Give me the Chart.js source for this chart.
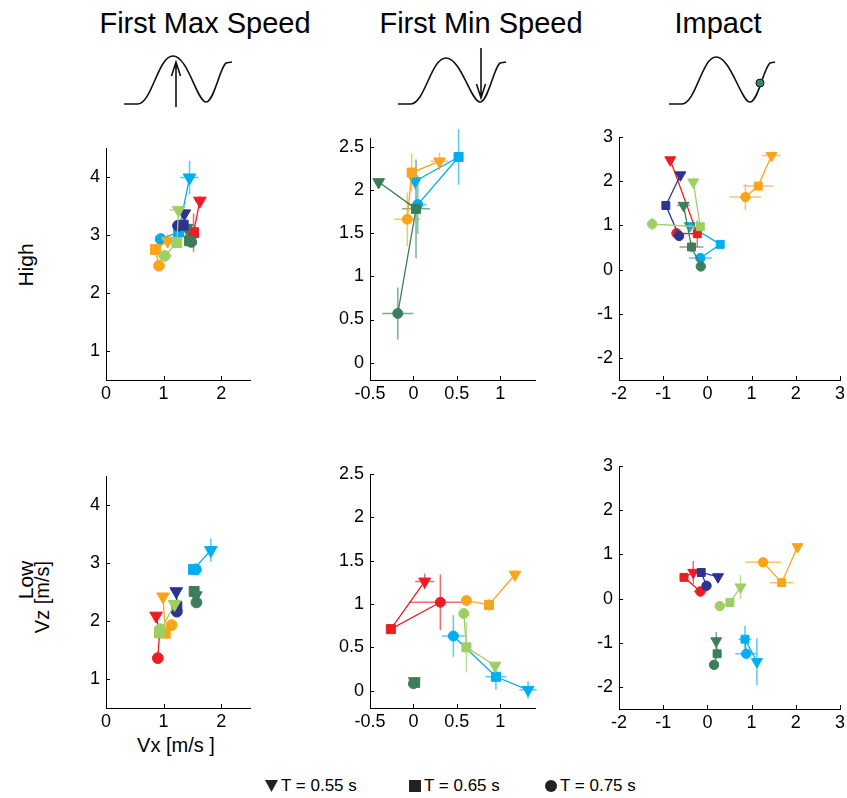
<!DOCTYPE html>
<html>
<head>
<meta charset="utf-8">
<script src="https://cdn.jsdelivr.net/npm/chart.js@4/dist/chart.umd.min.js"></script>
<style>
  body { margin: 0; width: 847px; height: 798px; overflow: hidden; background: #fff; position: relative;
         font-family: "Liberation Sans", Arial, sans-serif; color: #000; }
  .panel { position: absolute; }
  .txt { position: absolute; white-space: nowrap; line-height: 1; }
  .ctr { transform: translateX(-50%); }
  #overlay { position: absolute; left: 0; top: 0; }
  .leg { position: absolute; top: 777px; font-size: 17px; line-height: 1; white-space: nowrap; }
  .leg svg { vertical-align: -1px; margin-right: 3px; }
</style>
</head>
<body>

<div class="txt ctr" style="left:205px;top:9px;font-size:29px">First Max Speed</div>
<div class="txt ctr" style="left:481px;top:9px;font-size:29px">First Min Speed</div>
<div class="txt ctr" style="left:718px;top:9px;font-size:29px">Impact</div>

<svg id="overlay" width="847" height="798">
  <g fill="none" stroke="#111" stroke-width="1.6">
    <path d="M124,104 L138,104 C152,103 158,56 173,56 C188,56 197,102 206,102 C214,102 220,67 226,63 L232,62"/>
    <path d="M176,107 L176,63 M171.5,76 L176,62 L180.5,76"/>
    <path d="M398,104 L411,104 C425,103 431,58 446,58 C461,58 471,102 480,102 C488,102 494,67 500,63 L506,62"/>
    <path d="M481,48 L481,97 M476.5,84 L481,98 L485.5,84"/>
    <path d="M669,104 L682,104 C696,103 702,57 716,57 C731,57 741,102 750,102 C758,102 764,67 770,63 L775,62"/>
  </g>
  <circle cx="760" cy="83" r="4" fill="#3b8a5e" stroke="#111" stroke-width="1"/>
  <g font-family="Liberation Sans, Arial, sans-serif" fill="#000" text-anchor="middle">
    <text x="33" y="265" font-size="21" transform="rotate(-90 33 265)">High</text>
    <text x="33" y="580" font-size="21" transform="rotate(-90 33 580)">Low</text>
    <text x="49" y="597" font-size="20" transform="rotate(-90 49 597)">Vz [m/s]</text>
  </g>
</svg>

<div class="txt ctr" style="left:176px;top:735px;font-size:20px">Vx [m/s ]</div>

<div class="leg" style="left:265px"><svg width="13" height="12"><polygon points="0,0 13,0 6.5,12" fill="#222"/></svg>T = 0.55 s</div>
<div class="leg" style="left:409px"><svg width="12" height="12"><rect width="12" height="12" fill="#222"/></svg>T = 0.65 s</div>
<div class="leg" style="left:545px"><svg width="12" height="12"><circle cx="6" cy="6" r="6" fill="#222"/></svg>T = 0.75 s</div>

<script>
// series colours: red, orange, light green, dark green, cyan, navy
const colours = ['#ED1C24', '#F8A51B', '#9FCF63', '#3C7E5B', '#00AEEF', '#2B3590'];
const errColours = ['rgba(237,28,36,0.65)', 'rgba(248,165,27,0.65)', 'rgba(159,207,99,0.7)',
                    'rgba(60,126,91,0.65)', 'rgba(0,174,239,0.65)', 'rgba(43,53,144,0.65)'];
const periods = ['T = 0.55 s', 'T = 0.65 s', 'T = 0.75 s'];   // ▼, ■, ● within every series

// ticks
const maxSpeedTicksX = [0, 1, 2];
const maxSpeedTicksY = [1, 2, 3, 4];
const minSpeedTicksX = [-0.5, 0, 0.5, 1];
const minSpeedTicksY = [0, 0.5, 1, 1.5, 2, 2.5];
const impactTicksX = [-2, -1, 0, 1, 2, 3];
const impactTicksY = [-2, -1, 0, 1, 2, 3];

// High, First Max Speed  (rows: red, orange, light green, dark green, cyan, navy; cols: ▼ ■ ●)
const highMaxVx = [[1.63, 1.52, 1.50], [1.07, 0.86, 0.92], [1.26, 1.23, 1.02], [1.40, 1.45, 1.48], [1.45, 1.26, 0.95], [1.36, 1.34, 1.25]];
const highMaxVz = [[3.59, 3.04, 3.02], [2.90, 2.75, 2.47], [3.43, 2.87, 2.64], [3.12, 2.90, 2.88], [3.99, 3.05, 2.93], [3.37, 3.17, 3.16]];
const highMaxEx = [[0.05, 0.05, 0.04], [0.05, 0.05, 0.04], [0.16, 0.06, 0.12], [0.05, 0.06, 0.04], [0.16, 0.05, 0.04], [0.05, 0.05, 0.04]];
const highMaxEz = [[0.08, 0.33, 0.10], [0.12, 0.05, 0.06], [0.06, 0.06, 0.05], [0.06, 0.06, 0.04], [0.29, 0.10, 0.10], [0.08, 0.05, 0.05]];

// High, First Min Speed
const highMinVx = [null, [0.30, -0.02, -0.07], null, [-0.40, 0.03, -0.18], [0.02, 0.52, 0.05], null];
const highMinVz = [null, [2.33, 2.20, 1.66], null, [2.09, 1.78, 0.57], [2.10, 2.38, 1.83], null];
const highMinEx = [null, [0.10, 0.03, 0.15], null, [0.03, 0.16, 0.18], [0.05, 0.04, 0.10], null];
const highMinEz = [null, [0.10, 0.22, 0.31], null, [0.03, 0.57, 0.30], [0.10, 0.32, 0.34], null];

// High, Impact
const highImpVx = [[-0.84, -0.23, -0.70], [1.45, 1.15, 0.86], [-0.32, -0.16, -1.25], [-0.54, -0.36, -0.15], [-0.40, 0.29, -0.16], [-0.61, -0.94, -0.64]];
const highImpVz = [[2.48, 0.81, 0.82], [2.58, 1.89, 1.64], [1.98, 0.97, 1.03], [1.45, 0.51, 0.07], [0.99, 0.57, 0.26], [2.14, 1.45, 0.76]];
const highImpEx = [[0.05, 0.10, 0.05], [0.21, 0.34, 0.36], [0.05, 0.05, 0.05], [0.15, 0.27, 0.05], [0.12, 0.05, 0.26], [0.05, 0.05, 0.05]];
const highImpEz = [[0.05, 0.30, 0.05], [0.05, 0.10, 0.30], [0.10, 0.05, 0.15], [0.05, 0.12, 0.05], [0.05, 0.05, 0.05], [0.05, 0.05, 0.05]];

// Low, First Max Speed
const lowMaxVx = [[0.87, 0.93, 0.90], [0.99, 1.03, 1.14], [1.19, 0.93, 0.94], [1.56, 1.53, 1.57], [1.82, 1.52, 1.56], [1.22, 1.23, 1.23]];
const lowMaxVz = [[2.09, 1.80, 1.36], [2.42, 1.79, 1.93], [2.29, 1.80, 1.86], [2.44, 2.51, 2.32], [3.22, 2.89, 2.89], [2.51, 2.25, 2.16]];
const lowMaxEx = [[0.05, 0.03, 0.03], [0.04, 0.03, 0.04], [0.05, 0.03, 0.03], [0.03, 0.03, 0.03], [0.06, 0.05, 0.03], [0.03, 0.03, 0.03]];
const lowMaxEz = [[0.06, 0.05, 0.10], [0.05, 0.05, 0.08], [0.05, 0.10, 0.05], [0.05, 0.05, 0.05], [0.20, 0.03, 0.03], [0.06, 0.05, 0.05]];

// Low, First Min Speed
const lowMinVx = [[0.13, -0.26, 0.31], [1.17, 0.87, 0.61], [0.94, 0.61, 0.58], [0.01, 0.02, 0.00], [1.32, 0.95, 0.46], null];
const lowMinVz = [[1.26, 0.71, 1.02], [1.34, 0.99, 1.04], [0.29, 0.50, 0.89], [0.11, 0.09, 0.08], [0.01, 0.16, 0.63], null];
const lowMinEx = [[0.11, 0.03, 0.36], [0.03, 0.03, 0.05], [0.05, 0.05, 0.03], [0.03, 0.05, 0.03], [0.10, 0.12, 0.13], null];
const lowMinEz = [[0.09, 0.03, 0.32], [0.05, 0.07, 0.03], [0.03, 0.29, 0.03], [0.02, 0.03, 0.03], [0.10, 0.15, 0.24], null];

// Low, Impact
const lowImpVx = [[-0.32, -0.53, -0.16], [2.04, 1.68, 1.26], [0.75, 0.51, 0.28], [0.20, 0.22, 0.15], [1.12, 0.85, 0.88], [0.24, -0.14, -0.02]];
const lowImpVz = [[0.59, 0.48, 0.16], [1.17, 0.36, 0.82], [0.26, -0.09, -0.17], [-0.96, -1.25, -1.50], [-1.43, -0.92, -1.25], [0.49, 0.59, 0.29]];
const lowImpEx = [[0.05, 0.10, 0.15], [0.05, 0.26, 0.40], [0.05, 0.03, 0.03], [0.03, 0.10, 0.10], [0.03, 0.15, 0.25], [0.05, 0.05, 0.03]];
const lowImpEz = [[0.26, 0.05, 0.12], [0.05, 0.05, 0.05], [0.27, 0.03, 0.03], [0.20, 0.05, 0.05], [0.53, 0.30, 0.05], [0.08, 0.10, 0.03]];

// Chart.js paints the first dataset last, so the list runs from top layer to bottom
const drawOrder = [2, 5, 3, 1, 0, 4];
const FONT = '"Liberation Sans", Arial, sans-serif';
const AXIS_W = 50, AXIS_H = 30, PAD_T = 18, PAD_R = 10;

// error bars in data units, drawn under the markers
const errorBars = {
  id: 'errorBars',
  beforeDatasetsDraw(chart) {
    const { ctx, scales: { x, y } } = chart;
    chart.data.datasets.forEach(ds => {
      ctx.save();
      ctx.strokeStyle = ds.errColour;
      ctx.lineWidth = 1.5;
      ctx.beginPath();
      ds.data.forEach(p => {
        const px = x.getPixelForValue(p.x), py = y.getPixelForValue(p.y);
        ctx.moveTo(x.getPixelForValue(p.x - p.ex), py);
        ctx.lineTo(x.getPixelForValue(p.x + p.ex), py);
        ctx.moveTo(px, y.getPixelForValue(p.y - p.ez));
        ctx.lineTo(px, y.getPixelForValue(p.y + p.ez));
      });
      ctx.stroke();
      ctx.restore();
    });
  }
};

// small tick marks pointing into the plot
const innerTicks = {
  id: 'innerTicks',
  beforeDatasetsDraw(chart) {
    const { ctx, chartArea: a, scales: { x, y } } = chart;
    ctx.save();
    ctx.strokeStyle = '#000';
    ctx.lineWidth = 1;
    ctx.beginPath();
    x.ticks.forEach(t => {
      const px = Math.round(x.getPixelForValue(t.value)) + 0.5;
      ctx.moveTo(px, a.bottom); ctx.lineTo(px, a.bottom - 4);
    });
    y.ticks.forEach(t => {
      const py = Math.round(y.getPixelForValue(t.value)) + 0.5;
      ctx.moveTo(a.left, py); ctx.lineTo(a.left + 4, py);
    });
    ctx.stroke();
    ctx.restore();
  }
};

function axis(min, max, ticks, isX) {
  return {
    type: 'linear', min, max,
    afterBuildTicks: s => { s.ticks = ticks.map(v => ({ value: v })); },
    afterFit: s => { if (isX) s.height = AXIS_H; else s.width = AXIS_W; },
    grid: { display: false, drawTicks: false },
    border: { display: true, color: '#000', width: 1 },
    ticks: { color: '#000', font: { family: FONT, size: 18 }, padding: isX ? 3 : 6, callback: v => String(v) }
  };
}

function makePanel(box, xr, yr, xt, yt, vx, vz, ex, ez, radii) {
  const [l, t, r, b] = box;
  const w = r - l + AXIS_W + PAD_R, h = b - t + PAD_T + AXIS_H;
  const div = document.createElement('div');
  div.className = 'panel';
  div.style.cssText = `left:${l - AXIS_W}px;top:${t - PAD_T}px;width:${w}px;height:${h}px`;
  const cv = document.createElement('canvas');
  cv.width = w; cv.height = h;
  div.appendChild(cv);
  document.body.appendChild(div);

  const datasets = [];
  drawOrder.forEach(ci => {
    if (!vx[ci]) return;
    datasets.push({
      data: vx[ci].map((x, k) => ({ x, y: vz[ci][k], ex: ex[ci][k], ez: ez[ci][k] })),
      showLine: true,
      borderColor: colours[ci], backgroundColor: colours[ci], borderWidth: 1.3,
      pointStyle: ['triangle', 'rect', 'circle'], pointRotation: [180, 0, 0],
      pointRadius: radii, pointBorderWidth: 1, pointBorderColor: colours[ci],
      pointBackgroundColor: colours[ci],
      errColour: errColours[ci], clip: false
    });
  });

  new Chart(cv, {
    type: 'scatter',
    data: { datasets },
    options: {
      responsive: false, animation: false, events: [],
      layout: { padding: { top: PAD_T, right: PAD_R, left: 0, bottom: 0 } },
      plugins: { legend: { display: false }, tooltip: { enabled: false } },
      scales: { x: axis(xr[0], xr[1], xt, true), y: axis(yr[0], yr[1], yt, false) }
    },
    plugins: [errorBars, innerTicks]
  });
}

const bigMarks = [7.3, 7.0, 5.4], midMarks = [6.8, 6.4, 5.0], smallMarks = [6.3, 5.6, 4.7];
makePanel([106, 148, 250, 380], [0, 2.5], [0.5, 4.5], maxSpeedTicksX, maxSpeedTicksY, highMaxVx, highMaxVz, highMaxEx, highMaxEz, bigMarks);
makePanel([370, 138, 535, 380], [-0.5, 1.4], [-0.2, 2.6], minSpeedTicksX, minSpeedTicksY, highMinVx, highMinVz, highMinEx, highMinEz, midMarks);
makePanel([619, 137, 840, 380], [-2, 3], [-2.5, 3], impactTicksX, impactTicksY, highImpVx, highImpVz, highImpEx, highImpEz, smallMarks);
makePanel([106, 476, 250, 708], [0, 2.5], [0.5, 4.5], maxSpeedTicksX, maxSpeedTicksY, lowMaxVx, lowMaxVz, lowMaxEx, lowMaxEz, bigMarks);
makePanel([370, 474, 535, 708], [-0.5, 1.4], [-0.2, 2.5], minSpeedTicksX, minSpeedTicksY, lowMinVx, lowMinVz, lowMinEx, lowMinEz, midMarks);
makePanel([619, 466, 840, 709], [-2, 3], [-2.5, 3], impactTicksX, impactTicksY, lowImpVx, lowImpVz, lowImpEx, lowImpEz, smallMarks);
</script>
</body>
</html>
